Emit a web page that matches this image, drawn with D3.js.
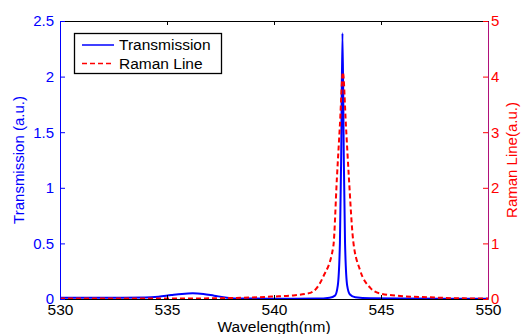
<!DOCTYPE html>
<html>
<head>
<meta charset="utf-8">
<script src="https://cdn.jsdelivr.net/npm/d3@7"></script>
<style>
  body { margin: 0; background: #fff; }
  svg text { font-family: "Liberation Sans", Arial, sans-serif; }
</style>
</head>
<body>
<div id="chart"></div>
<script>
// data
var transWl = [530, 532, 534, 534.6, 535.2, 535.7, 536.2, 536.7, 537.2, 537.8, 538.5, 540, 542, 542.6, 542.85,
  542.98, 543.08, 543.14, 543.2, 543.26, 543.32, 543.42, 543.55, 543.8, 544.5, 546, 550];
var transVal = [0.012, 0.012, 0.013, 0.02, 0.035, 0.046, 0.051, 0.045, 0.03, 0.012, 0.004, 0.003, 0.004, 0.012, 0.03,
  0.12, 0.5, 1.3, 2.39, 1.3, 0.5, 0.12, 0.04, 0.015, 0.006, 0.004, 0.003];

var ramanWl = [530, 532, 534, 536, 538, 539, 540, 540.75, 541.7, 542.3, 542.77, 542.94, 543.08, 543.22,
  543.36, 543.5, 543.7, 544.02, 544.5, 544.95, 545.9, 547.3, 548.7, 550];
var ramanVal = [0.01, 0.01, 0.01, 0.01, 0.018, 0.028, 0.045, 0.06, 0.11, 0.4, 0.94, 2.18, 3.13, 4.08,
  3.13, 2.18, 1.05, 0.52, 0.2, 0.1, 0.055, 0.03, 0.012, 0.01];

var xTicks = [530, 535, 540, 545, 550];
var yLeftTicks = [0, 0.5, 1, 1.5, 2, 2.5];
var yRightTicks = [0, 1, 2, 3, 4, 5];

var width = 521,
    height = 334,
    plotLeft = 60,
    plotRight = 488,
    plotTop = 21,
    plotBottom = 299;

var svg = d3.select("#chart")
    .append("svg")
    .attr("width", width)
    .attr("height", height);

var x = d3.scaleLinear().domain([530, 550]).range([plotLeft, plotRight]);
var yL = d3.scaleLinear().domain([0, 2.5]).range([plotBottom, plotTop]);
var yR = d3.scaleLinear().domain([0, 5]).range([plotBottom, plotTop]);

// top border with ticks
svg.append("g")
    .attr("transform", "translate(0," + plotTop + ")")
    .call(d3.axisTop(x).tickValues(xTicks).tickSize(-4).tickSizeOuter(0).tickFormat(""))
    .call(function (g) { g.selectAll("path, line").attr("stroke", "#000"); });

// lines
var transLine = d3.line()
    .x(function (d, i) { return x(transWl[i]); })
    .y(function (d) { return yL(d); })
    .curve(d3.curveMonotoneX);

var ramanLine = d3.line()
    .x(function (d, i) { return x(ramanWl[i]); })
    .y(function (d) { return yR(d); })
    .curve(d3.curveMonotoneX);

svg.append("path")
    .datum(transVal)
    .attr("d", transLine)
    .attr("fill", "none")
    .attr("stroke", "#0000ff")
    .attr("stroke-width", 2);

svg.append("path")
    .datum(ramanVal)
    .attr("d", ramanLine)
    .attr("fill", "none")
    .attr("stroke", "#ff0000")
    .attr("stroke-width", 2)
    .attr("stroke-dasharray", "5,3");

// bottom axis
var xAxis = svg.append("g")
    .attr("transform", "translate(0," + plotBottom + ")")
    .call(d3.axisBottom(x).tickValues(xTicks).tickSize(-4).tickSizeOuter(0).tickPadding(5));
xAxis.selectAll("path, line").attr("stroke", "#000");
xAxis.selectAll("text").attr("fill", "#000").style("font-size", "15.5px");

// left axis
var yAxisL = svg.append("g")
    .attr("transform", "translate(" + plotLeft + ",0)")
    .call(d3.axisLeft(yL).tickValues(yLeftTicks).tickSize(-5).tickSizeOuter(0).tickPadding(6)
        .tickFormat(function (d) { return d; }));
yAxisL.selectAll("path, line").attr("stroke", "#0000ff");
yAxisL.selectAll("text").attr("fill", "#0000ff").style("font-size", "15px");

// right axis
var yAxisR = svg.append("g")
    .attr("transform", "translate(" + plotRight + ",0)")
    .call(d3.axisRight(yR).tickValues(yRightTicks).tickSize(-5).tickSizeOuter(0).tickPadding(3)
        .tickFormat(d3.format("d")));
yAxisR.selectAll("path").attr("stroke", "#b0107a");
yAxisR.selectAll("line").attr("stroke", "#ff0000");
yAxisR.selectAll("text").attr("fill", "#ff0000").style("font-size", "15px");

// axis titles
svg.append("text")
    .attr("transform", "translate(19," + (plotTop + plotBottom) / 2 + ") rotate(-90)")
    .attr("text-anchor", "middle")
    .attr("dy", "0.35em")
    .attr("fill", "#0000ff")
    .style("font-size", "15px")
    .text("Transmission (a.u.)");

svg.append("text")
    .attr("transform", "translate(512," + (plotTop + plotBottom) / 2 + ") rotate(-90)")
    .attr("text-anchor", "middle")
    .attr("dy", "0.35em")
    .attr("fill", "#ff0000")
    .style("font-size", "15px")
    .text("Raman Line(a.u.)");

svg.append("text")
    .attr("x", x(540))
    .attr("y", 332)
    .attr("text-anchor", "middle")
    .attr("fill", "#000")
    .style("font-size", "15.5px")
    .text("Wavelength(nm)");

// legend
var legend = svg.append("g");
legend.append("rect")
    .attr("x", 74.5)
    .attr("y", 33.5)
    .attr("width", 147)
    .attr("height", 40)
    .attr("fill", "#fff")
    .attr("stroke", "#000")
    .attr("stroke-width", 1.3);

var legendItems = [
    { label: "Transmission", color: "#0000ff", dash: null },
    { label: "Raman Line", color: "#ff0000", dash: "5,3" }
];

legendItems.forEach(function (item, i) {
    var yy = 45 + i * 18.5;
    legend.append("line")
        .attr("x1", 82)
        .attr("x2", 114)
        .attr("y1", yy)
        .attr("y2", yy)
        .attr("stroke", item.color)
        .attr("stroke-width", 1.5)
        .attr("stroke-dasharray", item.dash);
    legend.append("text")
        .attr("x", 119)
        .attr("y", yy)
        .attr("dy", "0.35em")
        .attr("fill", "#000")
        .style("font-size", "15.5px")
        .text(item.label);
});
</script>
</body>
</html>
